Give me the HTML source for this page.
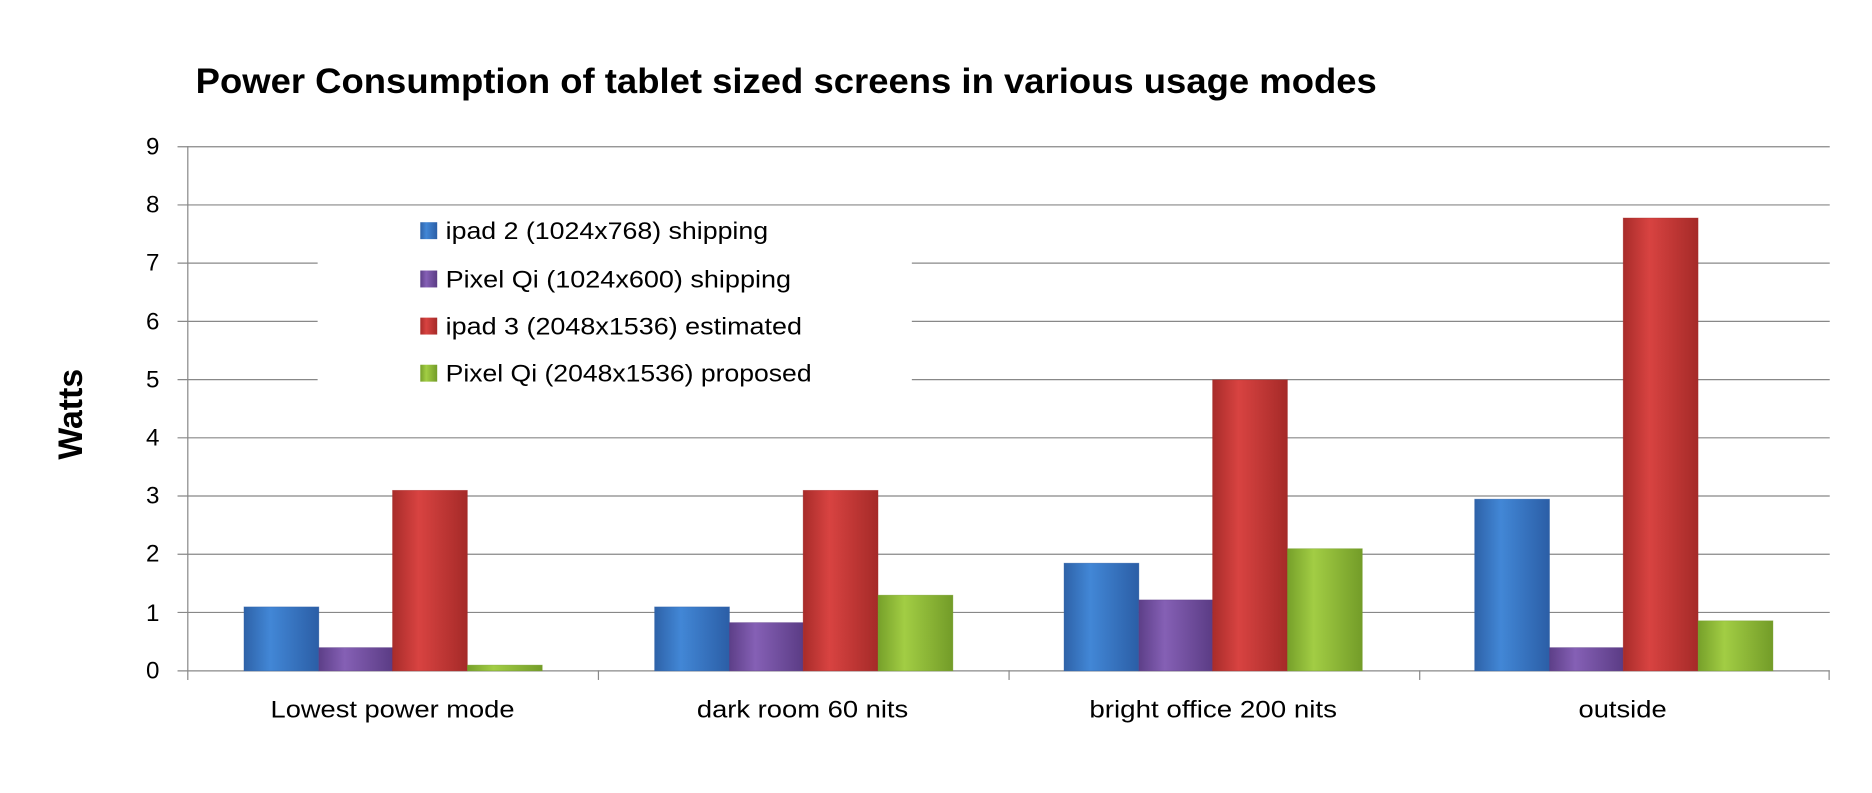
<!DOCTYPE html>
<html><head><meta charset="utf-8"><style>html,body{margin:0;padding:0;background:#fff;}svg{display:block}</style></head>
<body>
<svg width="1872" height="793" viewBox="0 0 1550 656.6" preserveAspectRatio="none" xmlns="http://www.w3.org/2000/svg" font-family="Liberation Sans, sans-serif">
<defs>
<linearGradient id="gb" x1="0" y1="0" x2="1" y2="0"><stop offset="0" stop-color="#2e62a8"/><stop offset="0.35" stop-color="#4287d6"/><stop offset="1" stop-color="#2b5ea6"/></linearGradient>
<linearGradient id="gp" x1="0" y1="0" x2="1" y2="0"><stop offset="0" stop-color="#5d3f88"/><stop offset="0.35" stop-color="#8560b5"/><stop offset="1" stop-color="#5b3c85"/></linearGradient>
<linearGradient id="gr" x1="0" y1="0" x2="1" y2="0"><stop offset="0" stop-color="#a82c2a"/><stop offset="0.35" stop-color="#d84341"/><stop offset="1" stop-color="#a52a28"/></linearGradient>
<linearGradient id="gg" x1="0" y1="0" x2="1" y2="0"><stop offset="0" stop-color="#76a02a"/><stop offset="0.35" stop-color="#a2cd44"/><stop offset="1" stop-color="#739c28"/></linearGradient>
</defs>
<text x="162" y="77" font-size="29" font-weight="bold" fill="#000" textLength="978" lengthAdjust="spacingAndGlyphs">Power Consumption of  tablet sized screens in various usage modes</text>
<g stroke="#888" stroke-width="1">
<line x1="147" y1="121.5" x2="1515" y2="121.5"/>
<line x1="147" y1="169.7" x2="1515" y2="169.7"/>
<line x1="147" y1="217.9" x2="1515" y2="217.9"/>
<line x1="147" y1="266.1" x2="1515" y2="266.1"/>
<line x1="147" y1="314.3" x2="1515" y2="314.3"/>
<line x1="147" y1="362.5" x2="1515" y2="362.5"/>
<line x1="147" y1="410.7" x2="1515" y2="410.7"/>
<line x1="147" y1="458.9" x2="1515" y2="458.9"/>
<line x1="147" y1="507.1" x2="1515" y2="507.1"/>
<line x1="147" y1="555.5" x2="1515" y2="555.5"/>
<line x1="155.5" y1="121" x2="155.5" y2="563"/>
<line x1="495.5" y1="555" x2="495.5" y2="563"/>
<line x1="835.5" y1="555" x2="835.5" y2="563"/>
<line x1="1175.5" y1="555" x2="1175.5" y2="563"/>
<line x1="1514.5" y1="555" x2="1514.5" y2="563"/>
</g>
<rect x="263" y="175" width="492" height="155" fill="#fff"/>
<g font-size="20" fill="#000" text-anchor="end">
<text x="132" y="128">9</text><text x="132" y="176">8</text><text x="132" y="224">7</text><text x="132" y="273">6</text><text x="132" y="321">5</text><text x="132" y="369">4</text><text x="132" y="417">3</text><text x="132" y="465">2</text><text x="132" y="514">1</text><text x="132" y="562">0</text>
</g>
<text transform="translate(68,343) rotate(-90)" font-size="28" font-weight="bold" text-anchor="middle">Watts</text>
<g font-size="20">
<text x="224" y="594" textLength="202" lengthAdjust="spacingAndGlyphs">Lowest power mode</text>
<text x="577" y="594" textLength="175" lengthAdjust="spacingAndGlyphs">dark room 60 nits</text>
<text x="902" y="594" textLength="205" lengthAdjust="spacingAndGlyphs">bright office 200 nits</text>
<text x="1307" y="594" textLength="73" lengthAdjust="spacingAndGlyphs">outside</text>
</g>
<g stroke-width="0.6" stroke-opacity="0.5">
<rect x="202" y="502.5" width="62" height="53" fill="url(#gb)" stroke="#2b5ea6"/>
<rect x="264" y="536.2" width="61" height="19.3" fill="url(#gp)" stroke="#5b3c85"/>
<rect x="325" y="406" width="62" height="149.5" fill="url(#gr)" stroke="#a52a28"/>
<rect x="387" y="550.7" width="62" height="4.8" fill="url(#gg)" stroke="#739c28"/>
<rect x="542" y="502.5" width="62" height="53" fill="url(#gb)" stroke="#2b5ea6"/>
<rect x="604" y="515.5" width="61" height="40" fill="url(#gp)" stroke="#5b3c85"/>
<rect x="665" y="406" width="62" height="149.5" fill="url(#gr)" stroke="#a52a28"/>
<rect x="727" y="492.8" width="62" height="62.7" fill="url(#gg)" stroke="#739c28"/>
<rect x="881" y="466.3" width="62" height="89.2" fill="url(#gb)" stroke="#2b5ea6"/>
<rect x="943" y="496.7" width="61" height="58.8" fill="url(#gp)" stroke="#5b3c85"/>
<rect x="1004" y="314.5" width="62" height="241" fill="url(#gr)" stroke="#a52a28"/>
<rect x="1066" y="454.3" width="62" height="101.2" fill="url(#gg)" stroke="#739c28"/>
<rect x="1221" y="413.3" width="62" height="142.2" fill="url(#gb)" stroke="#2b5ea6"/>
<rect x="1283" y="536.2" width="61" height="19.3" fill="url(#gp)" stroke="#5b3c85"/>
<rect x="1344" y="180.5" width="62" height="375" fill="url(#gr)" stroke="#a52a28"/>
<rect x="1406" y="514" width="62" height="41.5" fill="url(#gg)" stroke="#739c28"/>
</g>
<rect x="348" y="184" width="14" height="14" fill="url(#gb)"/>
<rect x="348" y="224" width="14" height="14" fill="url(#gp)"/>
<rect x="348" y="263" width="14" height="14" fill="url(#gr)"/>
<rect x="348" y="302" width="14" height="14" fill="url(#gg)"/>
<g font-size="20" fill="#000">
<text x="369" y="198" textLength="267" lengthAdjust="spacingAndGlyphs">ipad 2 (1024x768) shipping</text>
<text x="369" y="238" textLength="286" lengthAdjust="spacingAndGlyphs">Pixel Qi  (1024x600) shipping</text>
<text x="369" y="277" textLength="295" lengthAdjust="spacingAndGlyphs">ipad 3 (2048x1536) estimated</text>
<text x="369" y="316" textLength="303" lengthAdjust="spacingAndGlyphs">Pixel Qi (2048x1536) proposed</text>
</g>
</svg>
</body></html>
